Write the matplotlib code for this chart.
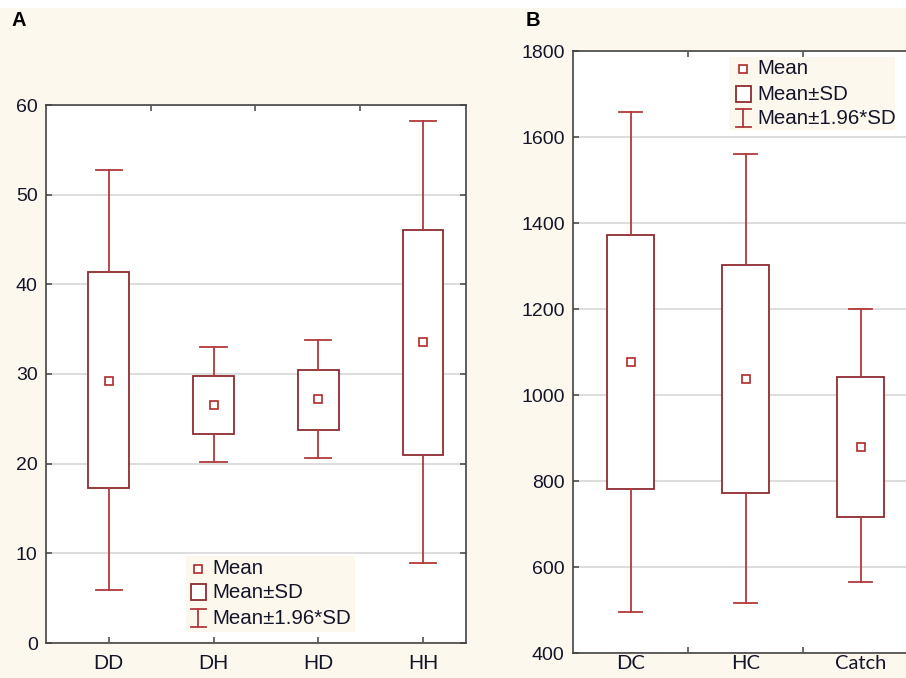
import matplotlib
matplotlib.use("Agg")
import matplotlib.pyplot as plt
from matplotlib.patches import Rectangle
from matplotlib.lines import Line2D

plt.rcParams['font.family'] = ['Liberation Sans', 'DejaVu Sans']

W, H = 906, 678

# panel A
groups_a = ['DD', 'DH', 'HD', 'HH']
mean_a = [29.2, 26.5, 27.2, 33.6]
sd_lo_a = [17.3, 23.3, 23.8, 21.0]
sd_hi_a = [41.4, 29.8, 30.5, 46.1]
ci_lo_a = [5.9, 20.2, 20.6, 8.9]
ci_hi_a = [52.8, 33.0, 33.8, 58.2]

# panel B
groups_b = ['DC', 'HC', 'Catch']
mean_b = [1076, 1038, 880]
sd_lo_b = [781, 773, 717]
sd_hi_b = [1372, 1303, 1043]
ci_lo_b = [495, 516, 564]
ci_hi_b = [1658, 1560, 1199]

CREAM = '#fcf8ee'
BOX = '#8e2c2f'
WHISK = '#b03a3c'
SPINE = '#444444'
TXT = '#15152a'

fig = plt.figure(figsize=(W / 100, H / 100), dpi=100, facecolor=CREAM)
fig.add_artist(Rectangle((0, 1 - 8 / H), 1, 8 / H, transform=fig.transFigure,
                         fc='white', ec='none', zorder=0))


def px_axes(l, t, r, b):
    return fig.add_axes([l / W, 1 - b / H, (r - l) / W, (b - t) / H])


def draw_boxes(ax, means, lo, hi, wlo, whi, width, capw):
    stats = []
    for m, a, b, c, d in zip(means, lo, hi, wlo, whi):
        stats.append(dict(med=m, q1=a, q3=b, whislo=c, whishi=d, mean=m, fliers=[]))
    ax.bxp(stats, positions=range(1, len(stats) + 1), widths=width, capwidths=capw,
           showmeans=True, showfliers=False, patch_artist=True, manage_ticks=False,
           boxprops=dict(facecolor='white', edgecolor=BOX, linewidth=1.3),
           whiskerprops=dict(color=WHISK, linewidth=1.3),
           capprops=dict(color=WHISK, linewidth=1.3),
           medianprops=dict(visible=False),
           meanprops=dict(marker='s', markerfacecolor='white', markeredgecolor='#b02a2a',
                          markersize=6, markeredgewidth=1.2))


def style_axes(ax):
    ax.set_facecolor('white')
    ax.set_axisbelow(True)
    ax.yaxis.grid(True, color='#dadada', linewidth=1.3)
    for s in ax.spines.values():
        s.set_color(SPINE)
        s.set_linewidth(1.2)
    ax.tick_params(axis='y', direction='in', left=True, right=True, length=4,
                   width=1.1, color=SPINE, pad=6, labelsize=14, labelcolor=TXT)


def legend_block(x0, y0, x1, y1, sx, tx, rows):
    fig.add_artist(Rectangle((x0 / W, 1 - y1 / H), (x1 - x0) / W, (y1 - y0) / H,
                             transform=fig.transFigure, fc=CREAM, ec='none', zorder=5))
    y_mean, y_sd, y_ci = rows
    fig.add_artist(Line2D([sx / W], [1 - y_mean / H], marker='s', markerfacecolor='white',
                          markeredgecolor='#b02a2a', markersize=6, markeredgewidth=1.2,
                          transform=fig.transFigure, zorder=6))
    fig.add_artist(Rectangle(((sx - 7.5) / W, 1 - (y_sd + 8) / H), 15 / W, 16 / H,
                             transform=fig.transFigure, fc='white', ec=BOX, lw=1.3, zorder=6))
    top, bot = y_ci - 9, y_ci + 9
    for xs, ys in [([sx, sx], [top, bot]), ([sx - 7.5, sx + 7.5], [top, top]),
                   ([sx - 7.5, sx + 7.5], [bot, bot])]:
        fig.add_artist(Line2D([x / W for x in xs], [1 - y / H for y in ys], color=WHISK,
                              lw=1.3, transform=fig.transFigure, zorder=6))
    for y, label in zip(rows, ['Mean', 'Mean±SD', 'Mean±1.96*SD']):
        fig.text(tx / W, 1 - y / H, label, va='center', ha='left', fontsize=14.8,
                 color=TXT, zorder=7)


# ---- panel A ----
axa = px_axes(46, 105, 466, 643)
style_axes(axa)
draw_boxes(axa, mean_a, sd_lo_a, sd_hi_a, ci_lo_a, ci_hi_a, 0.39, 0.25)
axa.set_xlim(0.4, 4.41)
axa.set_ylim(0, 60)
axa.set_yticks(range(0, 61, 10))
axa.set_xticks(range(1, 5))
axa.set_xticklabels(groups_a)
axa.set_xticks([1.4, 2.4, 3.4], minor=True)
axa.tick_params(axis='x', which='major', direction='in', bottom=True, top=False, length=4,
                width=1.1, color=SPINE, pad=8, labelsize=15, labelcolor=TXT)
axa.tick_params(axis='x', which='minor', direction='in', bottom=False, top=True, length=4,
                width=1.1, color=SPINE, labelbottom=False)
legend_block(186, 556, 355, 632, 198, 212, (569, 592, 618))

# ---- panel B ----
axb = px_axes(573, 51, 918, 653)
style_axes(axb)
draw_boxes(axb, mean_b, sd_lo_b, sd_hi_b, ci_lo_b, ci_hi_b, 0.41, 0.2)
axb.set_xlim(0.5, 3.5)
axb.set_ylim(400, 1800)
axb.set_yticks(range(400, 1801, 200))
axb.set_xticks([1.5, 2.5])
axb.set_xticklabels([])
axb.set_xticks([1, 2, 3], minor=True)
axb.set_xticklabels(groups_b, minor=True)
axb.tick_params(axis='x', which='major', direction='in', bottom=True, top=True, length=4,
                width=1.1, color=SPINE)
axb.tick_params(axis='x', which='minor', length=0, pad=1.5, labelsize=14.5, labelcolor=TXT)
for lab in axb.get_xticklabels(minor=True):
    lab.set_fontfamily(['Lato', 'DejaVu Sans'])
legend_block(729, 57, 895, 130, 743, 757, (69, 94, 118))

fig.text(12 / W, 1 - 21 / H, 'A', fontsize=14.5, fontweight='bold', va='center', ha='left')
fig.text(526 / W, 1 - 20 / H, 'B', fontsize=14.5, fontweight='bold', va='center', ha='left')

fig.savefig('out.png', dpi=100, facecolor=CREAM)
